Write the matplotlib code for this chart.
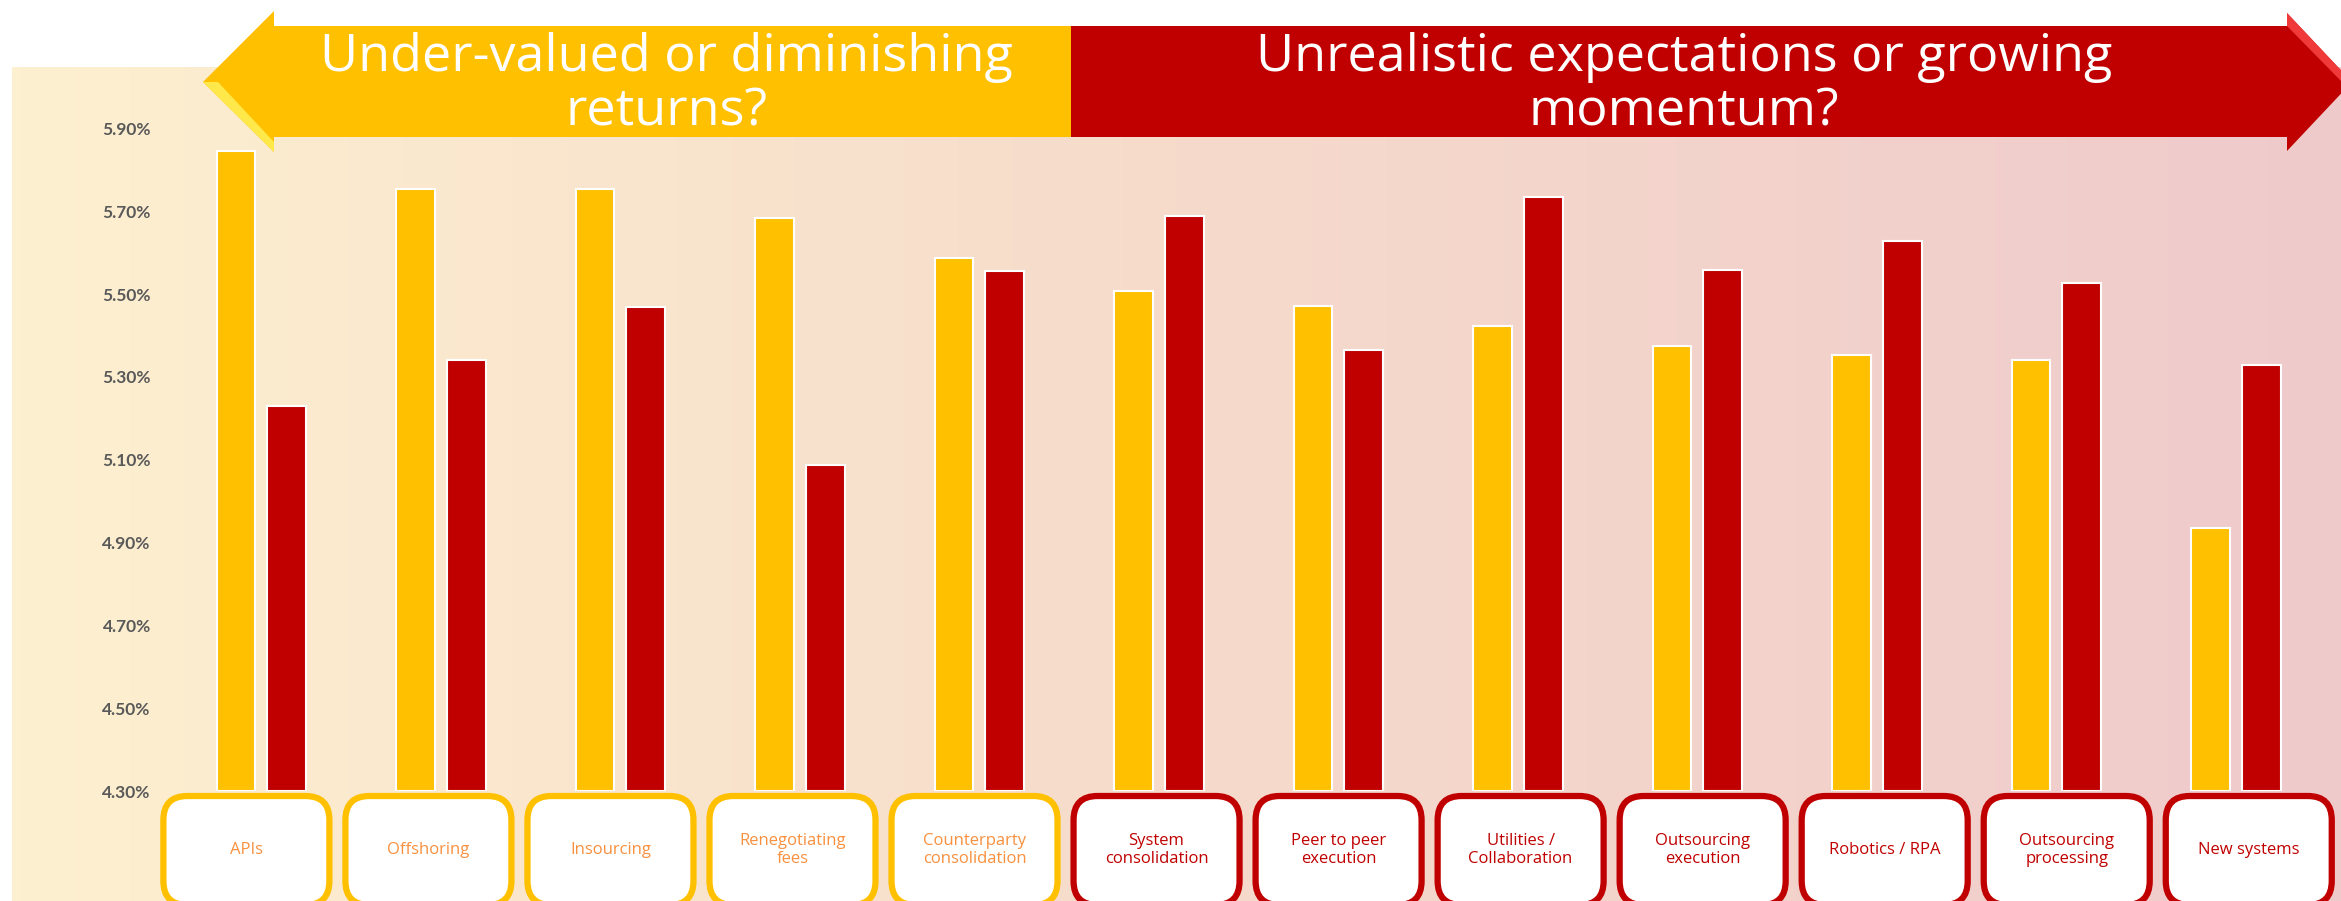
import numpy as np
import matplotlib
matplotlib.use('Agg')
import matplotlib.pyplot as plt
from matplotlib.colors import LinearSegmentedColormap
from matplotlib.patches import Polygon, FancyBboxPatch

# data
categories = ['APIs', 'Offshoring', 'Insourcing', 'Renegotiating\nfees',
              'Counterparty\nconsolidation', 'System\nconsolidation',
              'Peer to peer\nexecution', 'Utilities /\nCollaboration',
              'Outsourcing\nexecution', 'Robotics / RPA',
              'Outsourcing\nprocessing', 'New systems']
series_a = [5.846, 5.753, 5.753, 5.684, 5.587, 5.508,
            5.472, 5.422, 5.375, 5.353, 5.342, 4.936]
series_b = [5.231, 5.342, 5.468, 5.087, 5.555, 5.688,
            5.364, 5.735, 5.558, 5.627, 5.526, 5.328]
side = ['left'] * 5 + ['right'] * 7
yticks = [4.3, 4.5, 4.7, 4.9, 5.1, 5.3, 5.5, 5.7, 5.9]
left_title = 'Under-valued or diminishing\nreturns?'
right_title = 'Unrealistic expectations or growing\nmomentum?'

YEL = '#FFC000'
RED = '#C00000'
W, H = 2341, 901

fig = plt.figure(figsize=(W / 100, H / 100), dpi=100)
fig.patch.set_facecolor('white')

# gradient background
bg = fig.add_axes([12 / W, 0, 1 - 12 / W, (H - 67) / H])
grad = np.linspace(0, 1, 256).reshape(1, -1)
cmap = LinearSegmentedColormap.from_list('bg', ['#FDF0D0', '#F6DBCB', '#EFCACB'])
bg.imshow(grad, aspect='auto', cmap=cmap, extent=[0, 1, 0, 1])
bg.axis('off')

# main bar axes
ax = fig.add_axes([157 / W, (H - 791.3) / H, 1 - 157 / W, (791.3 - 67) / H])
ax.set_facecolor('none')
x = np.arange(len(categories))
bw = 0.216
off = 0.1415
ax.bar(x - off, np.array(series_a) - 4.3, bw, bottom=4.3, color=YEL,
       edgecolor='white', linewidth=1.5)
ax.bar(x + off, np.array(series_b) - 4.3, bw, bottom=4.3, color=RED,
       edgecolor='white', linewidth=1.5)
ax.set_xlim(-0.581, 11.586)
ax.set_ylim(4.3, 6.048)
ax.set_xticks([])
ax.set_yticks(yticks)
ax.set_yticklabels(['%.2f%%' % v for v in yticks], color='#595959',
                   fontsize=12.5, fontweight='bold', family='Lato')
ax.tick_params(axis='y', length=0, pad=4.5)
for s in ax.spines.values():
    s.set_visible(False)

# overlay in pixel coords (y from bottom)
ov = fig.add_axes([0, 0, 1, 1])
ov.set_xlim(0, W)
ov.set_ylim(0, H)
ov.axis('off')
ov.patch.set_alpha(0)


def py(y):
    return H - y


yel_arrow = [(203, 82), (274, 11), (274, 26), (1071, 26), (1071, 137),
             (274, 137), (274, 152)]
red_arrow = [(1071, 26), (2287, 26), (2287, 13), (2352, 82), (2287, 151),
             (2287, 137), (1071, 137)]
ov.add_patch(Polygon([(a, py(b)) for a, b in yel_arrow], closed=True,
                     facecolor=YEL, edgecolor='none', zorder=5))
ov.add_patch(Polygon([(a, py(b)) for a, b in red_arrow], closed=True,
                     facecolor=RED, edgecolor='none', zorder=5))
# folded highlight on the arrow heads
ov.add_patch(Polygon([(a, py(b)) for a, b in [(203, 82), (218, 82), (274, 142), (274, 152)]],
                     closed=True, facecolor='#FFE84A', edgecolor='none', zorder=6))
ov.add_patch(Polygon([(a, py(b)) for a, b in [(2287, 13), (2352, 82), (2342, 82), (2287, 26)]],
                     closed=True, facecolor='#F03A3A', edgecolor='none', zorder=6))

ov.text(666, py(85), left_title, color='white', fontsize=37.5, family='Open Sans',
        ha='center', va='center', linespacing=1.08, zorder=7)
ov.text(1684, py(85), right_title, color='white', fontsize=37.5, family='Open Sans',
        ha='center', va='center', linespacing=1.08, zorder=7)

# category boxes
bw_px = 166
for i, (lab, sd) in enumerate(zip(categories, side)):
    cx = ax.transData.transform((-0.083 + 1.0141 * i, 5))[0]
    ec = YEL if sd == 'left' else RED
    tc = '#F8903F' if sd == 'left' else RED
    ov.add_patch(FancyBboxPatch((cx - bw_px / 2, py(905)), bw_px, 905 - 796,
                                boxstyle='round,pad=0,rounding_size=24',
                                facecolor='white', edgecolor=ec, linewidth=4.5,
                                zorder=5))
    ov.text(cx, py(850), lab, color=tc, fontsize=12, family='Open Sans',
            ha='center', va='center', linespacing=1.15, zorder=6)

fig.savefig('out.png', dpi=100)
